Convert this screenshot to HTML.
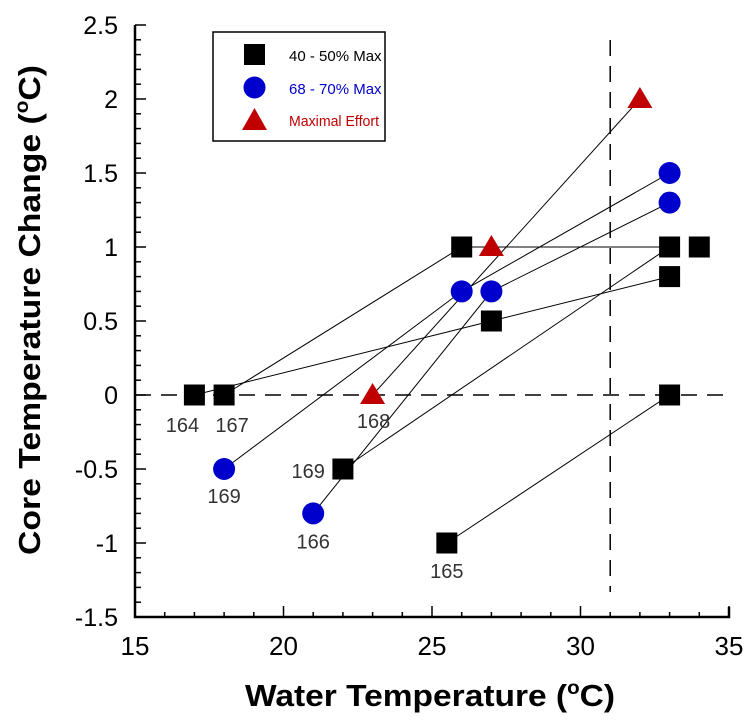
<!DOCTYPE html>
<html><head><meta charset="utf-8"><style>
body{margin:0;background:#fff;}
svg{display:block;font-family:"Liberation Sans",Arial,sans-serif;}
</style></head><body>
<svg id="chart" width="750" height="724" viewBox="0 0 750 724">
<rect width="750" height="724" fill="#fff"/>
<g id="grid"></g>
<g id="lines"></g>
<g id="marks"></g>
<g id="axes"></g>
<g id="labels"></g>
<g>
<rect x="213" y="32" width="172" height="109" fill="#fff" stroke="#000" stroke-width="1.5"/>
<rect x="244" y="44" width="21" height="21" fill="#000"/>
<text x="289" y="61" font-size="15" fill="#000">40 - 50% Max</text>
<circle cx="254.5" cy="87.5" r="11" fill="#0000cc"/>
<text x="289" y="94" font-size="15" fill="#0000cc">68 - 70% Max</text>
<polygon points="254.5,108 267,130 242,130" fill="#c00000"/>
<text x="289" y="126" font-size="15" fill="#c00000" textLength="90" lengthAdjust="spacingAndGlyphs">Maximal Effort</text>
</g>
<text x="430" y="706" text-anchor="middle" font-size="31" font-weight="bold" textLength="370" lengthAdjust="spacingAndGlyphs">Water Temperature (<tspan font-size="19" dy="-12">o</tspan><tspan dy="12">C)</tspan></text>
<text transform="translate(40,310) rotate(-90)" text-anchor="middle" font-size="31" font-weight="bold" textLength="490" lengthAdjust="spacingAndGlyphs">Core Temperature Change (<tspan font-size="19" dy="-12">o</tspan><tspan dy="12">C)</tspan></text>
</svg>
<script>
const xTicks=[15,20,25,30,35];
const yTicks=[-1.5,-1,-0.5,0,0.5,1,1.5,2,2.5];
const sqX=[17,18,26,27,22,25.5,33,34,33,33];
const sqY=[0,0,1,0.5,-0.5,-1,1,1,0.8,0];
const ciX=[18,21,26,27,33,33];
const ciY=[-0.5,-0.8,0.7,0.7,1.5,1.3];
const trX=[23,27,32];
const trY=[0,1,2];
const pathXs=[[17,27,33],[18,26,33],[18,26,33],[21,27,33],[22,33],[23,32],[25.5,33]];
const pathYs=[[0,0.5,0.8],[0,1,1],[-0.5,0.7,1.5],[-0.8,0.7,1.3],[-0.5,1],[0,2],[-1,0]];
const labelText=["164","167","168","169","169","166","165"];
const labelX=[17,18,23,18,22,21,25.5];
const labelY=[0,0,0,-0.5,-0.5,-0.8,-1];
const NS="http://www.w3.org/2000/svg";
const X0=135,X1=729,Y0=617,Y1=25;
const xs=v=>X0+(v-15)/(35-15)*(X1-X0);
const ys=v=>Y0-(v+1.5)/(2.5+1.5)*(Y0-Y1);
function mk(t,a,p){const e=document.createElementNS(NS,t);for(const k in a)e.setAttribute(k,a[k]);p.appendChild(e);return e;}
const grid=document.getElementById('grid'),lines=document.getElementById('lines'),marks=document.getElementById('marks'),axes=document.getElementById('axes'),labels=document.getElementById('labels');
let e;
e=mk('line',{x1:X0,x2:X1,y1:ys(0),y2:ys(0),stroke:'#000','stroke-width':1.5,'stroke-dasharray':'16,10'},grid);


e=mk('line',{x1:xs(31),x2:xs(31),y1:40,y2:592,stroke:'#000','stroke-width':1.5,'stroke-dasharray':'16,10'},grid);


pathXs.forEach((px,i)=>{const pts=px.map((v,j)=>xs(v)+','+ys(pathYs[i][j])).join(' ');
e=mk('polyline',{points:pts,fill:'none',stroke:'#000','stroke-width':1},lines);

});
sqX.forEach((v,i)=>{e=mk('rect',{x:xs(v)-10.5,y:ys(sqY[i])-10.5,width:21,height:21,fill:'#000'},marks);

});
ciX.forEach((v,i)=>{e=mk('circle',{cx:xs(v),cy:ys(ciY[i]),r:11,fill:'#0000cc'},marks);

});
trX.forEach((v,i)=>{const cx=xs(v),cy=ys(trY[i]);e=mk('polygon',{points:`${cx},${cy-12} ${cx+12.5},${cy+9} ${cx-12.5},${cy+9}`,fill:'#c00000'},marks);

});
const ldx=[-12,8,1,0,-18,0,0],ldy=[37,37,33,34,9,35,35];
labelText.forEach((t,i)=>{const x=xs(labelX[i])+ldx[i],y=ys(labelY[i])+ldy[i];const anc=i===4?'end':'middle';
e=mk('text',{x:x,y:y,'text-anchor':anc,'font-size':20,fill:'#333'},labels);e.textContent=t;

});
e=mk('path',{d:`M${X0},${Y1} V${Y0} H${X1} V${Y0-10}`,fill:'none',stroke:'#000','stroke-width':2.5},axes);


for(let v=15;v<=35;v++){const major=v%5===0;e=mk('line',{x1:xs(v),x2:xs(v),y1:Y0,y2:Y0-(major?11:5),stroke:'#000','stroke-width':1.5},axes);

}
for(let k=-15;k<=25;k++){const v=k/10;const major=k%5===0;e=mk('line',{x1:X0,x2:X0+(major?11:6),y1:ys(v),y2:ys(v),stroke:'#000','stroke-width':1.5},axes);

}
xTicks.forEach(v=>{e=mk('text',{x:xs(v),y:655,'text-anchor':'middle','font-size':26},axes);e.textContent=v;

});
yTicks.forEach(v=>{e=mk('text',{x:118,y:ys(v)+9,'text-anchor':'end','font-size':25},axes);e.textContent=v;

});
</script>
</body></html>
